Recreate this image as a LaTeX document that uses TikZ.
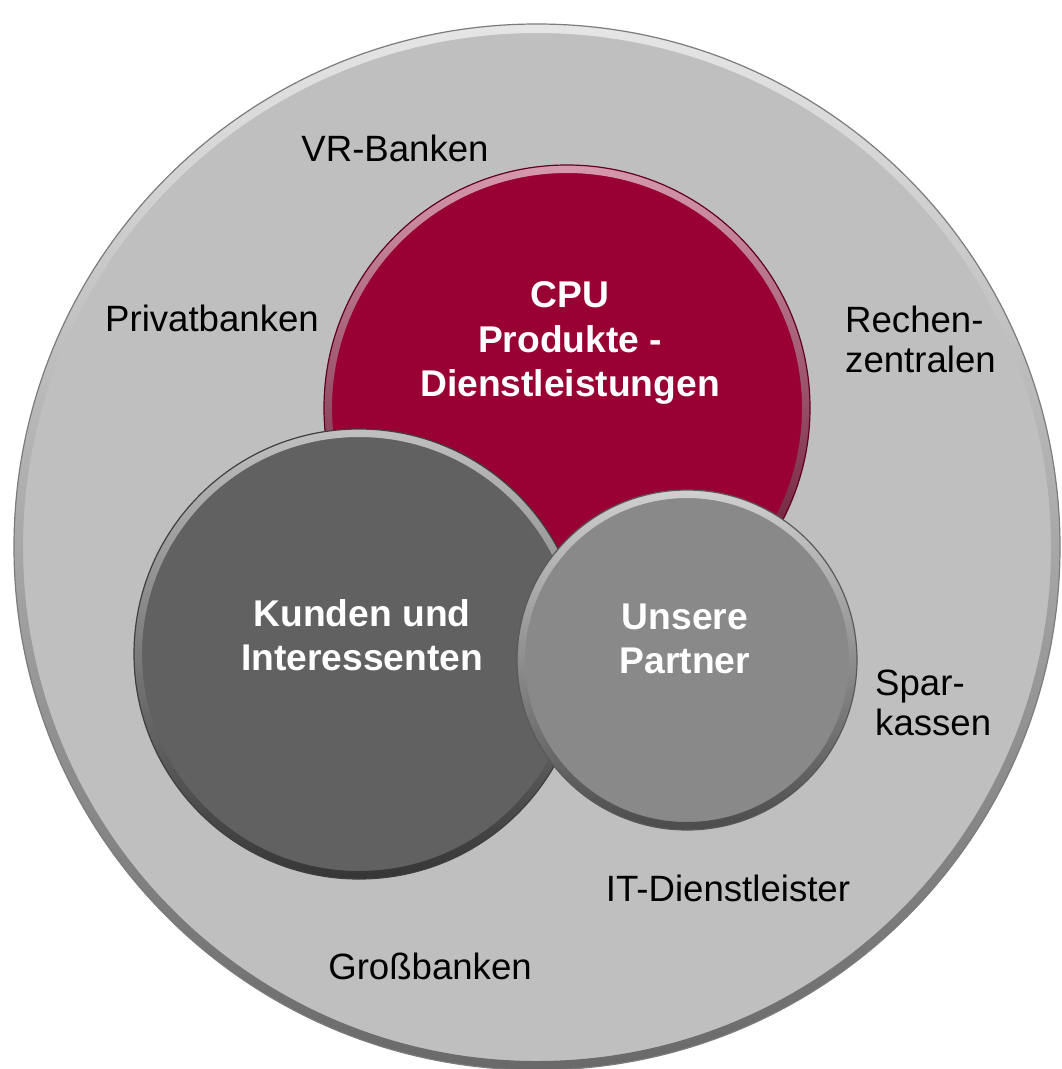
\documentclass[tikz,border=0pt]{standalone}
\usepackage{fontspec}
\setmainfont{Liberation Sans}
\definecolor{outerfill}{HTML}{BFBFBF}
\definecolor{cpured}{HTML}{990033}
\definecolor{kundgray}{HTML}{616161}
\definecolor{partgray}{HTML}{898989}
\newcommand\bevelring[5]{%
  \begin{scope}[even odd rule]
    \clip (#1,#2) circle[radius=#3] (#1,#2) circle[radius=#3-#5];
    \shade[top color=#4!40!white, middle color=#4, bottom color=#4!55!black]
      (#1-#3,#2-#3) rectangle (#1+#3,#2+#3);
  \end{scope}
  \draw[#4!65!black, line width=1.2] (#1,#2) circle[radius=#3];
}
\begin{document}
\begin{tikzpicture}[x=1pt,y=-1pt,
  disc/.style={circle, inner sep=0pt, draw=none},
  lbl/.style={font=\fontsize{36.6}{40}\selectfont, text=black, inner sep=0pt},
  lbll/.style={lbl, align=left},
  inner/.style={font=\fontsize{37.2}{44.5}\selectfont\bfseries, text=white, align=center, inner sep=0pt}]
\useasboundingbox (0,0) rectangle (1061,1069);
\fill[white] (0,0) rectangle (1061,1069);
% outer disc
\node[disc, fill=outerfill, minimum size=1046pt] (outer) at (537,547) {};
\bevelring{537}{547}{523}{outerfill}{9}
% CPU disc
\node[disc, fill=cpured, minimum size=486pt] (cpu) at (567,408) {};
\bevelring{567}{408}{243}{cpured}{8}
% Kunden disc
\node[disc, fill=kundgray, minimum size=450pt] (kunden) at (359,654) {};
\bevelring{359}{654}{225}{kundgray}{8}
% Partner disc
\node[disc, fill=partgray, minimum size=340pt] (partner) at (687,660) {};
\bevelring{687}{660}{170}{partgray}{8}
% inner labels
\node[inner] (tcpu) at (570,343) {CPU\\Produkte -\\Dienstleistungen};
\node[inner] (tkunden) at (362,635) {Kunden und\\Interessenten};
\node[inner] (tpartner) at (685,639) {Unsere\\Partner};
% outer labels
\node[lbl] (vr) at (395,148) {VR-Banken};
\node[lbl] (privat) at (212,318) {Privatbanken};
\node[lbll, anchor=west] (rechen) at (845,339) {Rechen-\\zentralen};
\node[lbll, anchor=west] (spar) at (875,703) {Spar-\\kassen};
\node[lbl] (it) at (728,888) {IT-Dienstleister};
\node[lbl] (gross) at (430,966) {Großbanken};
\end{tikzpicture}
\end{document}
